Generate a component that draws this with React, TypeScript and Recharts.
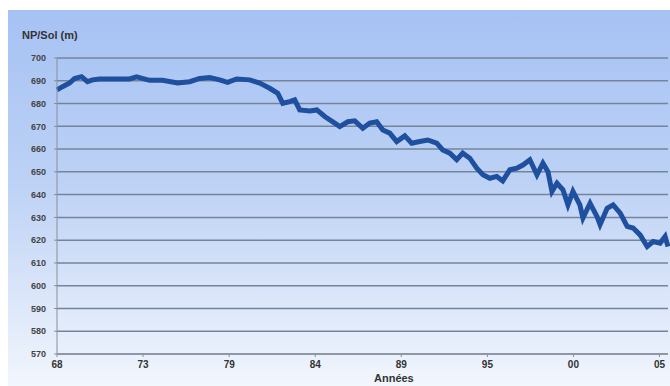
import { LineChart, Line, XAxis, YAxis, CartesianGrid } from "recharts";

// years (decimal) and water level NP/Sol in metres
const YEARS = [
  1968.0, 1968.34, 1968.78, 1969.09, 1969.52, 1969.89, 1970.2, 1970.64, 1971.57, 1972.5,
  1972.93, 1973.74, 1974.54, 1975.47, 1976.22, 1976.84, 1977.46, 1978.08, 1978.57, 1979.13,
  1979.94, 1980.56, 1981.18, 1981.68, 1981.99, 1982.42, 1982.73, 1983.04, 1983.66, 1984.1,
  1984.59, 1985.21, 1985.52, 1986.02, 1986.45, 1986.95, 1987.38, 1987.81, 1988.19, 1988.62,
  1989.05, 1989.55, 1989.98, 1990.48, 1990.97, 1991.53, 1991.9, 1992.34, 1992.77, 1993.14,
  1993.58, 1994.01, 1994.39, 1994.82, 1995.25, 1995.62, 1996.06, 1996.5, 1996.87, 1997.3,
  1997.74, 1998.11, 1998.42, 1998.67, 1998.98, 1999.35, 1999.66, 1999.97, 2000.4, 2000.59,
  2001.03, 2001.46, 2001.65, 2002.09, 2002.46, 2002.9, 2003.33, 2003.7, 2004.13, 2004.57,
  2004.94, 2005.37, 2005.68, 2005.86,
];

const LEVELS = [
  686.0, 687.4, 689.0, 691.0, 691.8, 689.6, 690.4, 690.8, 690.8, 690.8,
  691.7, 690.2, 690.2, 689.0, 689.6, 691.0, 691.4, 690.4, 689.3, 690.8,
  690.4, 689.0, 686.7, 684.5, 680.1, 680.8, 681.6, 677.2, 676.7, 677.2,
  674.3, 671.4, 669.9, 672.0, 672.4, 669.1, 671.4, 672.0, 668.4, 667.0,
  663.3, 665.8, 662.6, 663.3, 664.0, 662.6, 659.6, 658.2, 655.3, 658.2,
  656.0, 651.6, 648.7, 647.2, 648.0, 646.0, 650.9, 651.6, 653.0, 655.3,
  648.7, 653.8, 650.1, 641.4, 645.0, 642.1, 635.5, 641.4, 635.5, 629.7,
  636.2, 630.4, 626.8, 634.0, 635.5, 631.9, 626.0, 625.3, 622.3, 617.2,
  619.4, 618.7, 621.6, 617.2,
];

const TICK_YEARS = [1968, 1973.33, 1978.67, 1984, 1989.33, 1994.67, 2000, 2005.33];
const TICK_LABELS = ["68", "73", "79", "84", "89", "95", "00", "05"];
const Y_TICKS = [570, 580, 590, 600, 610, 620, 630, 640, 650, 660, 670, 680, 690, 700];

const data = YEARS.map((year, i) => ({ year, level: LEVELS[i] }));

const font = "'Liberation Sans', Arial, sans-serif";

export default function App() {
  return (
    <div
      style={{
        position: "fixed",
        left: 8,
        top: 10,
        width: 662,
        height: 376,
        background: "linear-gradient(#a6c2f4 0%, #bcd1f5 45%, #f2f6fd 100%)",
        fontFamily: font,
      }}
    >
      <div
        style={{
          position: "absolute",
          left: 14,
          top: 19,
          fontSize: 11,
          fontWeight: "bold",
          color: "#333",
        }}
      >
        NP/Sol (m)
      </div>
      <LineChart
        width={662}
        height={376}
        data={data}
        margin={{ top: 48, right: 2, bottom: 2, left: 0 }}
      >
        <CartesianGrid vertical={false} stroke="#76849b" strokeWidth={1.5} />
        <XAxis
          dataKey="year"
          type="number"
          domain={[1968, 2005.86]}
          ticks={TICK_YEARS}
          tickFormatter={(v: number) => TICK_LABELS[TICK_YEARS.indexOf(v)] ?? ""}
          tick={{ fontSize: 10, fontWeight: "bold", fill: "#333", fontFamily: font }}
          tickSize={3}
          tickMargin={4}
          height={30}
          stroke="#8a8f99"
          interval={0}
        />
        <YAxis
          domain={[570, 700]}
          ticks={Y_TICKS}
          width={49}
          tick={{ fontSize: 9, fontWeight: "bold", fill: "#444", fontFamily: font }}
          tickSize={3}
          tickMargin={8}
          stroke="#8a8f99"
          interval={0}
        />
        <Line
          type="linear"
          dataKey="level"
          stroke="#1f4f9f"
          strokeWidth={5}
          dot={false}
          isAnimationActive={false}
        />
      </LineChart>
      <div
        style={{
          position: "absolute",
          left: 366,
          top: 362,
          fontSize: 11,
          lineHeight: "13px",
          fontWeight: "bold",
          color: "#333",
        }}
      >
        Années
      </div>
    </div>
  );
}
